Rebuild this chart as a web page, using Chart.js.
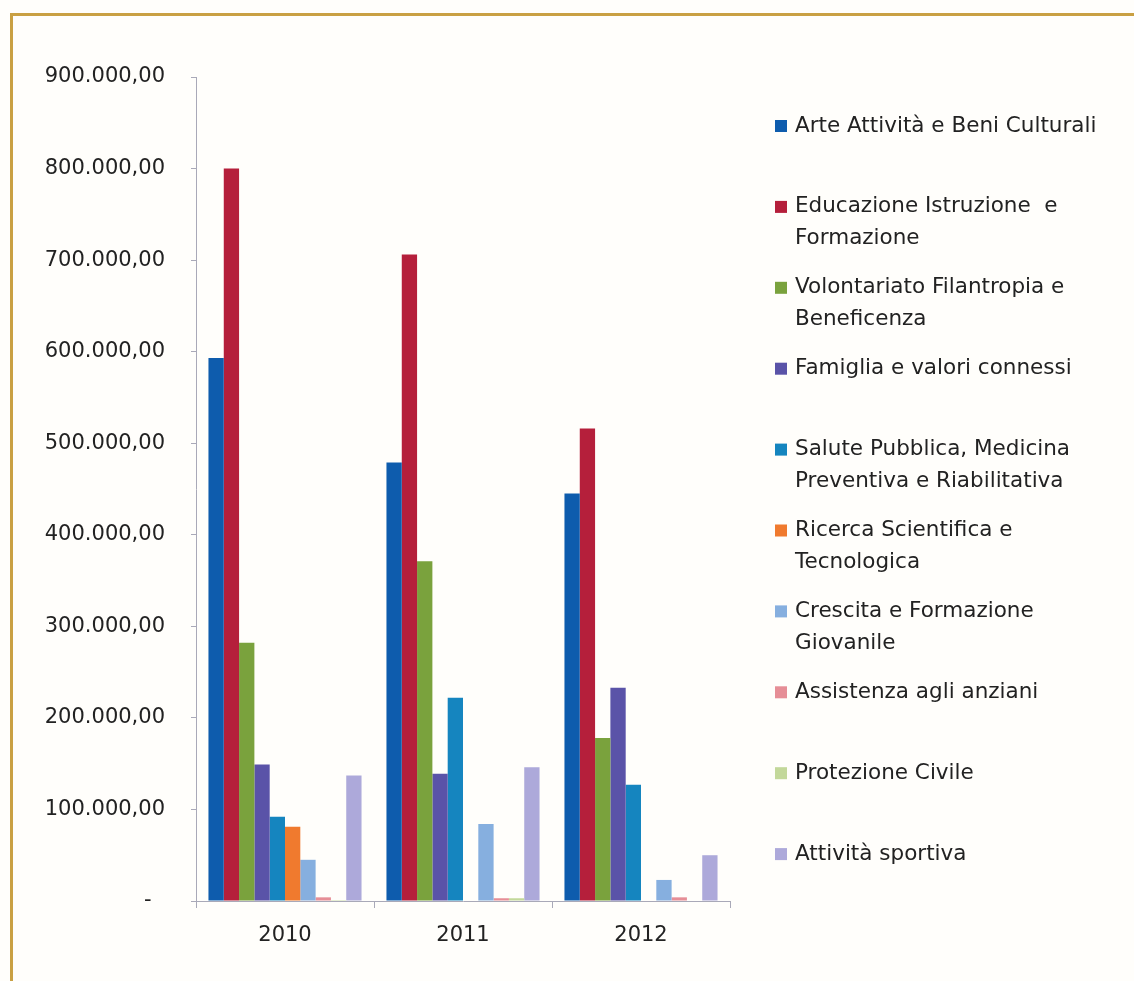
<!DOCTYPE html>
<html lang="it">
<head>
  <meta charset="UTF-8">
  <title>Erogazioni per settore 2010-2012</title>
  <script src="https://cdn.jsdelivr.net/npm/chart.js"></script>
  <style>
    body { margin: 0; background: #fffefb; }
    .cornice {
      position: absolute; left: 10px; top: 13px; right: 0; bottom: 0;
      border-top: 3px solid #c9a043; border-left: 3px solid #c9a043;
    }
    #grafico { position: absolute; left: 0; top: 0; }
  </style>
</head>
<body>
  <div class="cornice"></div>
  <canvas id="grafico" width="1134" height="981"></canvas>
  <script>
    // anni e settori
    const anni = ['2010', '2011', '2012'];
    const settori = [
      ['Arte Attività e Beni Culturali'],
      ['Educazione Istruzione  e', 'Formazione'],
      ['Volontariato Filantropia e', 'Beneficenza'],
      ['Famiglia e valori connessi'],
      ['Salute Pubblica, Medicina', 'Preventiva e Riabilitativa'],
      ['Ricerca Scientifica e', 'Tecnologica'],
      ['Crescita e Formazione', 'Giovanile'],
      ['Assistenza agli anziani'],
      ['Protezione Civile'],
      ['Attività sportiva']
    ];
    const colori = ['#0e5cad', '#b51f3b', '#7aa23d', '#5a53a8', '#1585bf',
                    '#f07a2e', '#86afdf', '#e68e96', '#c3d89a', '#ada9da'];

    // importi erogati (euro)
    const arte         = [593000, 479000, 445000];
    const educazione   = [800000, 706000, 516000];
    const volontariato = [282000, 371000, 178000];
    const famiglia     = [149000, 139000, 233000];
    const salute       = [92000, 222000, 127000];
    const ricerca      = [81000, 0, 0];
    const crescita     = [45000, 84000, 23000];
    const anziani      = [4000, 3000, 4000];
    const protezione   = [1000, 3000, 0];
    const sport        = [137000, 146000, 50000];

    const serie = [arte, educazione, volontariato, famiglia, salute,
                   ricerca, crescita, anziani, protezione, sport];

    const yMin = 0, yMax = 900000, yPasso = 100000;

    function euro(v) {
      if (v === 0) return '-  ';
      const s = String(Math.round(v)).replace(/\B(?=(\d{3})+(?!\d))/g, '.');
      return s + ',00';
    }

    // legenda a destra, con etichette su due righe
    const legendaDestra = {
      id: 'legendaDestra',
      afterDraw(chart) {
        const ctx = chart.ctx;
        ctx.save();
        ctx.font = '21.5px "DejaVu Sans"';
        ctx.textBaseline = 'middle';
        ctx.textAlign = 'left';
        chart.data.datasets.forEach((ds, i) => {
          const y = 126 + i * 80.9;
          ctx.fillStyle = ds.backgroundColor;
          ctx.fillRect(775, y - 6, 12, 12);
          ctx.fillStyle = '#222';
          ds.righe.forEach((r, k) => ctx.fillText(r, 795, y + k * 32));
        });
        ctx.restore();
      }
    };

    const ctx = document.getElementById('grafico').getContext('2d');
    const grafico = new Chart(ctx, {
      type: 'bar',
      data: {
        labels: anni,
        datasets: serie.map((valori, i) => ({
          label: settori[i].join(' '),
          righe: settori[i],
          data: valori,
          backgroundColor: colori[i],
          borderWidth: 0
        }))
      },
      options: {
        responsive: false,
        animation: false,
        layout: { padding: { top: 77, right: 404, left: 0, bottom: 0 } },
        datasets: { bar: { categoryPercentage: 0.86, barPercentage: 1.0 } },
        scales: {
          x: {
            afterFit: s => { s.height = 80; },
            grid: { offset: true, drawOnChartArea: false, tickLength: 7, color: '#a9a9b8' },
            border: { color: '#a9a9b8', width: 1 },
            ticks: { color: '#222', font: { family: 'DejaVu Sans', size: 21 }, padding: 15 }
          },
          y: {
            min: yMin,
            max: yMax,
            afterFit: s => { s.width = 196; },
            grid: { drawOnChartArea: false, tickLength: 5, color: '#a9a9b8' },
            border: { color: '#a9a9b8', width: 1 },
            ticks: {
              stepSize: yPasso,
              color: '#222',
              padding: 26,
              font: { family: 'DejaVu Sans', size: 21 },
              callback: v => euro(v)
            }
          }
        },
        plugins: {
          legend: { display: false },
          tooltip: { enabled: false }
        }
      },
      plugins: [legendaDestra]
    });
  </script>
</body>
</html>
